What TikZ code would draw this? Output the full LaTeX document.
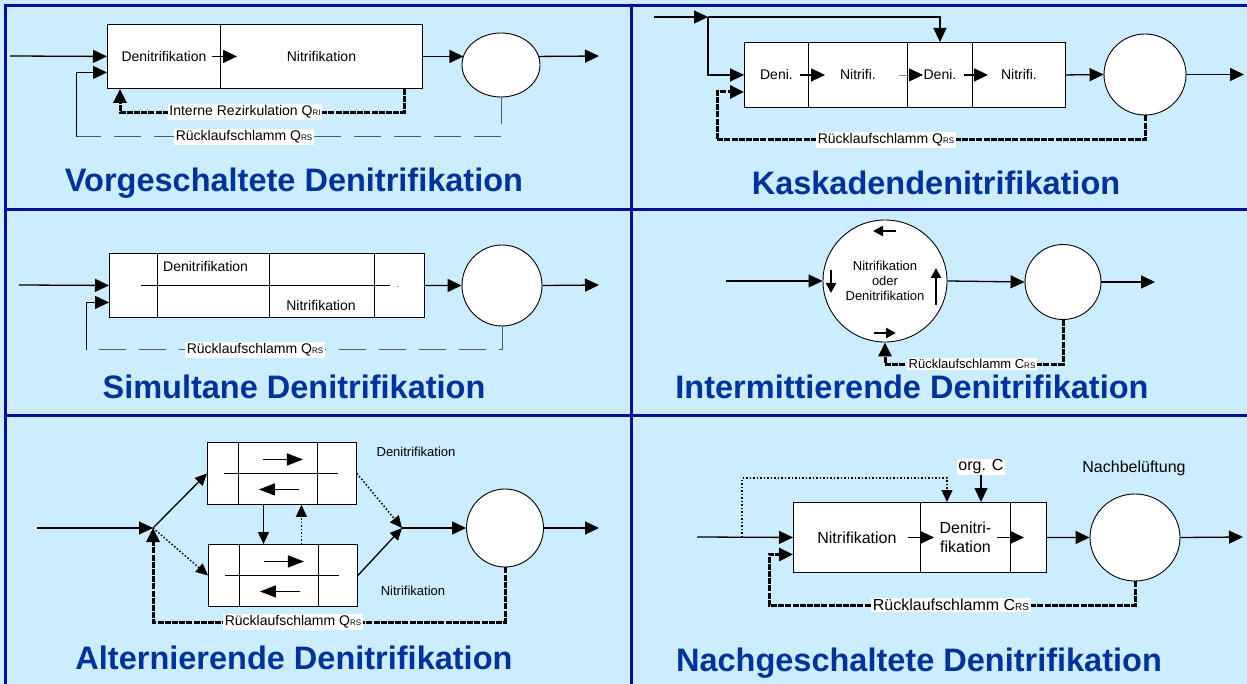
\documentclass[tikz,border=0pt]{standalone}
\usepackage{fontspec}
\setmainfont{Liberation Sans}
\usetikzlibrary{arrows.meta,shapes.geometric,calc}

\definecolor{panelbg}{RGB}{204,236,255}
\definecolor{panelline}{RGB}{12,12,150}
\definecolor{titleblue}{RGB}{0,51,153}
\newcommand{\idx}[2][8]{{\fontsize{#1}{#1}\selectfont #2}}

\tikzset{
  flow/.style={line width=1.3pt, -{Triangle[length=14pt,width=13pt]}},
  greyflow/.style={line width=0.8pt, draw=black!45, -{Triangle[length=14pt,width=13pt,color=black]}},
  midflow/.style={line width=1.3pt, -{Triangle[length=12pt,width=11pt]}},
  dotflow/.style={line width=1.5pt, dotted, -{Triangle[length=12pt,width=11pt]}},
  boxflow/.style={line width=1.5pt, -{Triangle[length=16pt,width=12pt]}},
  smallflow/.style={line width=2.5pt, -{Triangle[length=10pt,width=10pt]}},
  recycle/.style={line width=3pt, dash pattern=on 6pt off 1.2pt, -{Triangle[length=14pt,width=13pt]}},
  sludge/.style={line width=1pt, draw=black!65, dash pattern=on 27pt off 13pt},
  feed/.style={line width=1pt, -{Triangle[length=14pt,width=13pt]}},
  tank/.style={draw, fill=white, line width=0.9pt, rectangle, inner sep=0pt, anchor=north west},
  clarifier/.style={draw, fill=white, ellipse, line width=0.9pt, inner sep=0pt},
  lbl/.style={font=\fontsize{14}{17}\selectfont, inner sep=0pt},
  lblsmall/.style={font=\fontsize{13}{15}\selectfont, inner sep=0pt},
  lblbig/.style={font=\fontsize{16}{19}\selectfont, inner sep=0pt},
  flowtag/.style={lbl, fill=white, inner sep=1.5pt},
  heading/.style={font=\fontsize{32.5}{36}\selectfont\bfseries, text=titleblue},
  panelframe/.style={draw=panelline, line width=3pt},
}

\begin{document}
\begin{tikzpicture}[x=1pt,y=-1pt]
\useasboundingbox (0,0) rectangle (1247,684);
\fill[panelbg] (0,0) rectangle (1247,684);
\draw[panelframe] (5,684) -- (5,6) -- (1247,6);
\draw[panelframe] (631,6) -- (631,684);
\draw[panelframe] (5,210) -- (1247,210) (5,415) -- (1247,415);

% Vorgeschaltete Denitrifikation
\node[tank, lbl, minimum width=113, minimum height=64] (vdeni) at (107,24) {Denitrifikation};
\node[tank, lbl, minimum width=202, minimum height=64] (vnit) at (220,24) {Nitrifikation};
\node[clarifier, minimum width=78, minimum height=64] (vclar) at (501,65) {};
\coordinate (vin) at (10,56);
\coordinate (vout) at (599,56);
\coordinate (vrs) at (76,137);
\draw[flow] (vin) -- (vdeni.west);
\draw[flow] ($(vdeni.east)+(-9,0)$) -- ($(vnit.west)+(17,0)$);
\draw[flow] (vnit.east) -- (vnit.east -| vclar.165);
\draw[flow] (vclar.15 |- vnit.east) -- (vout);
\draw[recycle] ($(vnit.south west)+(184,0)$) -- ++(0,24) -| ($(vdeni.south west)+(13,0)$);
\node[flowtag] (vri) at (245,112) {Interne Rezirkulation Q\idx{RI}};
\draw[sludge] (vclar.south) |- (vrs);
\draw[feed] (vrs) |- ($(vdeni.west)+(0,16)$);
\node[flowtag] (vrstag) at (244,137) {Rücklaufschlamm Q\idx{RS}};
\node[heading] (vtitle) at (294,183) {Vorgeschaltete Denitrifikation};

% Kaskadendenitrifikation
\node[tank, lbl, minimum width=64, minimum height=65] (kdeni1) at (744,42) {Deni.};
\node[tank, lbl, minimum width=99, minimum height=65] (knit1) at (808,42) {Nitrifi.};
\node[tank, lbl, minimum width=65, minimum height=65] (kdeni2) at (907,42) {Deni.};
\node[tank, lbl, minimum width=93, minimum height=65] (knit2) at (972,42) {Nitrifi.};
\node[clarifier, minimum width=82, minimum height=81] (kclar) at (1145,74.5) {};
\coordinate (kin) at (654,17);
\coordinate (ksplit) at (708,17);
\coordinate (kout) at (1244,74.5);
\coordinate (krs) at (717,140);
\draw[flow] (kin) -- (ksplit);
\draw[flow] (ksplit) -| (kdeni2.north);
\draw[flow] (ksplit) |- (kdeni1.west);
\draw[flow] ($(kdeni1.east)+(-9,0)$) -- ($(knit1.west)+(17,0)$);
\draw[greyflow] ($(knit1.east)+(-9,0)$) -- ($(kdeni2.west)+(16,0)$);
\draw[flow] ($(kdeni2.east)+(-9,0)$) -- ($(knit2.west)+(16,0)$);
\draw[flow] (knit2.east) -- (kclar.west);
\draw[flow] (kclar.east) -- (kout);
\draw[recycle] (kclar.south) |- (krs) |- ($(kdeni1.west)+(0,17)$);
\node[flowtag] (krstag) at (886,140) {Rücklaufschlamm Q\idx{RS}};
\node[heading] (ktitle) at (936,183) {Kaskadendenitrifikation};

% Simultane Denitrifikation
\node[tank, minimum width=315, minimum height=64] (sbox) at (109,253) {};
\foreach \dx in {48.5,160,265.5}
  \draw[line width=0.9pt] ($(sbox.north west)+(\dx,0)$) -- ($(sbox.south west)+(\dx,0)$);
\draw[line width=0.9pt] ($(sbox.west)+(32,0)$) -- ($(sbox.west)+(281,0)$);
\node[lbl, anchor=west] (sdeni) at (163,266) {Denitrifikation};
\node[lbl] (snit) at (321,305) {Nitrifikation};
\node[lbl, font=\fontsize{8}{8}\selectfont] (sdot) at (398,287) {.};
\node[clarifier, minimum width=80, minimum height=81] (sclar) at (502,285.5) {};
\coordinate (sin) at (19,285);
\coordinate (sout) at (599,285);
\coordinate (srs) at (86,350);
\draw[flow] (sin) -- (sbox.west);
\draw[flow] (sbox.east) -- (sclar.west);
\draw[flow] (sclar.east) -- (sout);
\draw[sludge] (sclar.south) |- (srs);
\draw[feed] (srs) |- ($(sbox.west)+(0,17)$);
\node[flowtag] (srstag) at (255,350) {Rücklaufschlamm Q\idx{RS}};
\node[heading] (stitle) at (294,387) {Simultane Denitrifikation};

% Intermittierende Denitrifikation
\node[clarifier, lblsmall, align=center, minimum width=124, minimum height=122] (ibig) at (885,281) {Nitrifikation\\oder\\Denitrifikation};
\node[clarifier, minimum width=76, minimum height=75] (isml) at (1063,282) {};
\coordinate (iin) at (726,281);
\coordinate (iout) at (1155,282);
\coordinate (irs) at (885,364);
\draw[flow] (iin) -- (ibig.west);
\draw[flow] (ibig.east) -- (isml.west);
\draw[flow] (isml.east) -- (iout);
\draw[smallflow] ($(ibig.center)+(11,-50)$) -- ++(-23,0);
\draw[smallflow] ($(ibig.center)+(-54,-11)$) -- ++(0,23);
\draw[smallflow] ($(ibig.center)+(51,24)$) -- ++(0,-37);
\draw[smallflow] ($(ibig.center)+(-11,52)$) -- ++(22,0);
\draw[recycle] (isml.south) |- (irs) -- (ibig.south);
\node[flowtag, font=\fontsize{13}{15}\selectfont] (irstag) at (972,364) {Rücklaufschlamm C\idx{RS}};
\node[heading] (ititle) at (912,387) {Intermittierende Denitrifikation};

% Alternierende Denitrifikation
\node[tank, minimum width=149, minimum height=62] (aup) at (207,442) {};
\node[tank, minimum width=149, minimum height=62] (alow) at (208,544) {};
\foreach \b in {aup,alow} {
  \draw[line width=0.9pt] ($(\b.north west)+(31,0)$) -- ($(\b.south west)+(31,0)$);
  \draw[line width=0.9pt] ($(\b.north west)+(110,0)$) -- ($(\b.south west)+(110,0)$);
  \draw[line width=0.9pt] ($(\b.west)+(17,0)$) -- ($(\b.west)+(131,0)$);
  \draw[boxflow] ($(\b.center)+(-19,-14)$) -- ++(40,0);
  \draw[boxflow] ($(\b.center)+(17,16)$) -- ++(-40,0);
}
\node[clarifier, minimum width=77, minimum height=78] (aclar) at (505,528) {};
\coordinate (ain) at (37,528);
\coordinate (aj) at (153,528);
\coordinate (am) at (402,528);
\coordinate (aout) at (599,528);
\coordinate (ars) at (153,622);
\draw[flow] (ain) -- (aj);
\draw[midflow] (aj) -- (aup.west);
\draw[dotflow] (aj) -- (alow.west);
\draw[dotflow] (aup.east) -- (am);
\draw[midflow] (alow.east) -- (am);
\draw[midflow] ($(aup.south)+(-18.5,0)$) -- ($(alow.north)+(-19.5,0)$);
\draw[dotflow] ($(alow.north)+(18.5,0)$) -- ($(aup.south)+(19.5,0)$);
\draw[flow] (am) -- (aclar.west);
\draw[flow] (aclar.east) -- (aout);
\draw[recycle] (aclar.south) |- (ars) -- (aj);
\node[flowtag] (arstag) at (293,622) {Rücklaufschlamm Q\idx{RS}};
\node[lblsmall] (adeni) at (416,452) {Denitrifikation};
\node[lblsmall] (anit) at (413,591) {Nitrifikation};
\node[heading] (atitle) at (294,658) {Alternierende Denitrifikation};

% Nachgeschaltete Denitrifikation
\node[tank, lblbig, minimum width=127, minimum height=70] (nnit) at (793,502) {Nitrifikation};
\node[tank, lblbig, align=center, minimum width=90, minimum height=70] (ndeni) at (920,502) {Denitri-\\fikation};
\node[tank, minimum width=36, minimum height=70] (nend) at (1010,502) {};
\node[clarifier, minimum width=90, minimum height=87] (nclar) at (1135,537.5) {};
\node[lblbig, fill=white, inner sep=1pt] (norg) at (981,467) {org. C};
\node[lblbig] (nnach) at (1134,468) {Nachbelüftung};
\coordinate (nin) at (697,537);
\coordinate (nby) at (742,537);
\coordinate (nout) at (1243,537);
\coordinate (nrs) at (769,605);
\draw[flow] (nin) -- (nnit.west);
\draw[dotflow] (nby) |- ($(ndeni.north west)+(27,-24)$) -- ($(ndeni.north west)+(27,0)$);
\draw[flow] (norg.south) -- (norg.south |- ndeni.north);
\draw[flow] ($(nnit.east)+(-13,0)$) -- ($(ndeni.west)+(14,0)$);
\draw[flow] ($(ndeni.east)+(-14,0)$) -- ($(nend.west)+(14,0)$);
\draw[flow] (nend.east) -- (nclar.west);
\draw[flow] (nclar.east) -- (nout);
\draw[recycle] (nclar.south) |- (nrs) |- ($(nnit.west)+(0,17)$);
\node[flowtag, lblbig, fill=white, inner sep=1.5pt] (nrstag) at (951,605) {Rücklaufschlamm C\idx[10]{RS}};
\node[heading] (ntitle) at (919,663) {Nachgeschaltete Denitrifikation};
\end{tikzpicture}
\end{document}
